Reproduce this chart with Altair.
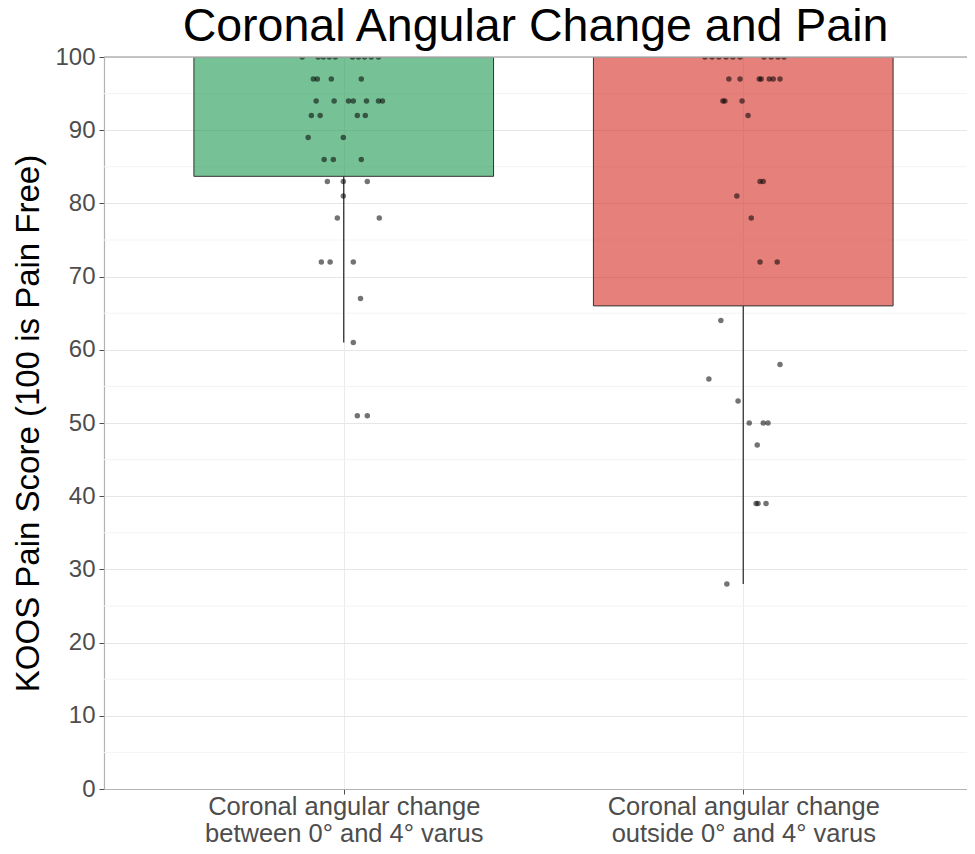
import altair as alt
import pandas as pd

# ---- data ----
groups = ["between", "outside"]
group_pos = [1, 2]
label_lines = [
    ["Coronal angular change", "between 0° and 4° varus"],
    ["Coronal angular change", "outside 0° and 4° varus"],
]
box_lower = [83.7, 66.0]
box_upper = [100, 100]
whisker_low = [61, 28]
fill_colors = ["#1B984E", "#D42B21"]

green_scores = [100, 100, 100, 100, 100, 100, 100, 100, 100, 100,
                97, 97, 97, 97,
                94, 94, 94, 94, 94, 94, 94,
                92, 92, 92, 92,
                89, 89,
                86, 86, 86,
                83, 83, 83,
                81,
                78, 78,
                72, 72, 72,
                67, 61, 51, 51]
green_x = [0.896, 0.936, 0.949, 0.964, 0.979, 1.022, 1.037, 1.052, 1.069, 1.087,
           0.924, 0.934, 0.969, 1.044,
           0.931, 0.976, 1.012, 1.024, 1.057, 1.087, 1.097,
           0.919, 0.941, 1.034, 1.054,
           0.911, 0.999,
           0.951, 0.974, 1.044,
           0.959, 0.999, 1.059,
           0.999,
           0.984, 1.089,
           0.944, 0.966, 1.024,
           1.042, 1.024, 1.034, 1.059]

red_scores = [100, 100, 100, 100, 100, 100, 100, 100, 100, 100,
              97, 97, 97, 97, 97, 97, 97,
              94, 94, 94,
              92,
              83, 83,
              81, 78,
              72, 72,
              64, 58, 56, 53,
              50, 50, 50,
              47,
              39, 39, 39,
              28]
red_x = [1.904, 1.922, 1.939, 1.957, 1.974, 1.992, 2.052, 2.070, 2.087, 2.102,
         1.964, 1.992, 2.040, 2.045, 2.065, 2.075, 2.092,
         1.949, 1.954, 1.997,
         2.012,
         2.042, 2.050,
         1.984, 2.020,
         2.042, 2.085,
         1.944, 2.092, 1.914, 1.987,
         2.015, 2.050, 2.062,
         2.035,
         2.032, 2.037, 2.057,
         1.959]

y_ticks = list(range(0, 101, 10))
y_minor = [v + 5 for v in range(0, 100, 10)]

title_text = "Coronal Angular Change and Pain"
y_title = "KOOS Pain Score (100 is Pain Free)"

FONT = "Liberation Sans"
BOX_HALF = 0.375
BORDER = "#B3B3B3"

# ---- tables ----
boxes = pd.DataFrame({
    "group": groups,
    "pos": group_pos,
    "left": [p - BOX_HALF for p in group_pos],
    "right": [p + BOX_HALF for p in group_pos],
    "lower": box_lower,
    "upper": box_upper,
    "wlow": whisker_low,
})
points = pd.DataFrame({
    "x": green_x + red_x,
    "score": green_scores + red_scores,
})
minor = pd.DataFrame({"v": y_minor})

label_expr = " : ".join(
    f"datum.value == {p} ? {l!r}" for p, l in zip(group_pos, label_lines)
) + " : ''"

x_scale = alt.Scale(domain=[0.4, 2.56], nice=False, zero=False)
y_scale = alt.Scale(domain=[0, 100], nice=False, zero=False)

x_axis = alt.Axis(values=group_pos, labelExpr=label_expr, title=None,
                  grid=True, gridColor="#EBEBEB",
                  domain=True, domainColor=BORDER, domainWidth=1.2,
                  tickColor="#4D4D4D", tickSize=5, labelPadding=0,
                  labelFont=FONT, labelFontSize=25.5, labelColor="#4D4D4D",
                  labelLineHeight=27, labelLimit=600)
y_axis = alt.Axis(values=y_ticks, title=y_title, grid=True, gridColor="#E6E6E6",
                  domain=True, domainColor=BORDER, domainWidth=1.2,
                  tickColor="#4D4D4D", tickSize=5, labelPadding=4,
                  labelFont=FONT, labelFontSize=24, labelColor="#4D4D4D",
                  titleFont=FONT, titleFontSize=33, titleFontWeight="normal",
                  titleColor="black", titlePadding=9)

minor_grid = alt.Chart(minor).mark_rule(color="#F3F3F3", strokeWidth=1).encode(
    y=alt.Y("v:Q", scale=y_scale, axis=y_axis)
)

box = alt.Chart(boxes).mark_rect(stroke="#333333", strokeWidth=1, fillOpacity=0.6,
                                 clip=True).encode(
    x=alt.X("left:Q", scale=x_scale, axis=x_axis),
    x2="right:Q",
    y=alt.Y("lower:Q", scale=y_scale),
    y2="upper:Q",
    fill=alt.Fill("group:N", scale=alt.Scale(domain=groups, range=fill_colors), legend=None),
)

whisker = alt.Chart(boxes).mark_rule(color="#333333", strokeWidth=1.3, clip=True).encode(
    x=alt.X("pos:Q", scale=x_scale),
    y=alt.Y("wlow:Q", scale=y_scale),
    y2="lower:Q",
)

dots = alt.Chart(points).mark_circle(color="black", opacity=0.55, size=30, clip=True).encode(
    x=alt.X("x:Q", scale=x_scale),
    y=alt.Y("score:Q", scale=y_scale),
)

top_border = alt.Chart(boxes).mark_rule(color=BORDER, strokeWidth=1.2).encode(
    y=alt.datum(100),
)

chart = alt.layer(minor_grid, box, whisker, dots, top_border).properties(
    width=863,
    height=732,
    title=alt.Title(title_text, font=FONT, fontSize=46.5, fontWeight="normal",
                    color="black", anchor="middle", offset=-5),
    autosize=alt.AutoSizeParams(type="none"),
    padding={"left": 96, "top": 49, "right": 0, "bottom": 55},
).configure_view(strokeWidth=0)

chart.save("out.html", embed_options={"renderer": "svg", "actions": False})
